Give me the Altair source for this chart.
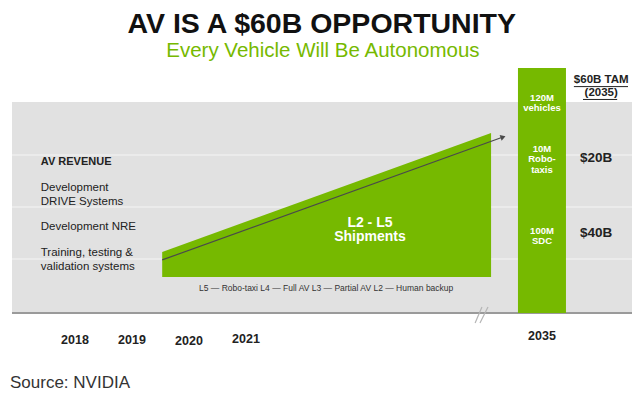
import altair as alt
import pandas as pd

GREEN = "#76b900"
FONT = "Liberation Sans"

# ---- content / values ----
title = "AV IS A $60B OPPORTUNITY"
subtitle = "Every Vehicle Will Be Autonomous"
source = "Source: NVIDIA"

years = [2018, 2019, 2020, 2021, 2035]
year_labels = ["2018", "2019", "2020", "2021", "2035"]

revenue_header = "AV REVENUE"
revenue_streams = ["Development\nDRIVE Systems", "Development NRE", "Training, testing &\nvalidation systems"]
band_edges = [26.4, 51.9, 77.4]          # revenue band separators (axis units)
panel_top = 103.3

ship_years = [2019.53, 2025.30]           # L2-L5 shipments wedge
ship_base = [17.6, 17.6]
ship_top = [29.9, 88.2]
trend_years = [2019.53, 2025.51]          # growth arrow
trend_values = [26.0, 86.2]
ship_label = "L2 - L5\nShipments"
autonomy_levels = ["L5 \u2014 Robo-taxi", "L4 \u2014 Full AV", "L3 \u2014 Partial AV", "L2 \u2014 Human backup"]

bar_year = 2035
vehicles_2035 = 120                        # M vehicles
segments_2035 = ["120M\nvehicles", "10M\nRobo-\ntaxis", "100M\nSDC"]
tam_header = ["$60B TAM", "(2035)"]
tam_values = ["$20B", "$40B"]

# ---- scales (broken time axis) ----
xs = alt.Scale(domain=[2016.825, 2025.632, 2034.439, 2036.58], range=[0, 502, 502, 624],
               nice=False, zero=False, padding=0)
ys = alt.Scale(domain=[-38.2, 149.4], range=[383, 0], nice=False, zero=False, padding=0)


def X(f="x"):
    return alt.X(f, type="quantitative", scale=xs, axis=None)


def Y(f="y"):
    return alt.Y(f, type="quantitative", scale=ys, axis=None)


def text_layer(texts, xvals, yvals, **kw):
    df = pd.DataFrame({"t": texts, "x": xvals, "y": yvals})
    base = dict(font=FONT, lineBreak="\n", baseline="middle")
    base.update(kw)
    return alt.Chart(df).mark_text(**base).encode(x=X(), y=Y(), text="t:N")


x_left, x_right = 2016.895, 2036.58

panel = alt.Chart(pd.DataFrame({"x": [x_left], "x2": [x_right], "y": [0], "y2": [panel_top]})).mark_rect(
    color="#e1e1e1").encode(x=X(), x2="x2", y=Y(), y2="y2")

grid = alt.Chart(pd.DataFrame({"y": band_edges, "x": x_left, "x2": x_right})).mark_rule(
    color="#eeeeee", strokeWidth=1.5).encode(x=X(), x2="x2", y=Y())

axis_line = alt.Chart(pd.DataFrame({"y": [0], "x": [x_left], "x2": [x_right]})).mark_rule(
    color="#9a9a9a", strokeWidth=2).encode(x=X(), x2="x2", y=Y())

brk = alt.Chart(pd.DataFrame({"x": [2025.02, 2025.105], "x2": [2025.14, 2025.246],
                              "y": [-4.9, -4.9], "y2": [2.9, 2.9]})).mark_rule(
    color="#b5b5b5", strokeWidth=1.2).encode(x=X(), x2="x2", y=Y(), y2="y2")

wedge = alt.Chart(pd.DataFrame({"x": ship_years, "y": ship_top, "y2": ship_base})).mark_area(
    color=GREEN, opacity=1).encode(x=X(), y=Y(), y2="y2")

trend = alt.Chart(pd.DataFrame({"x": trend_years, "y": trend_values})).mark_line(
    color="#4a4a4a", strokeWidth=1.2).encode(x=X(), y=Y())

head = alt.Chart(pd.DataFrame({"x": trend_years[-1:], "y": trend_values[-1:]})).mark_point(
    shape="triangle-right", angle=340, filled=True, size=35, color="#4a4a4a", opacity=1).encode(x=X(), y=Y())

bar = alt.Chart(pd.DataFrame({"x": [bar_year], "y": [vehicles_2035], "y2": [0]})).mark_bar(
    color=GREEN, size=48).encode(x=X(), y=Y(), y2="y2")

t_title = text_layer([title], [2022.33], [149.4 - 1.6 / 2.0417], fontSize=28.5, fontWeight="bold",
                     color="#111111", align="center", baseline="top")
t_sub = text_layer([subtitle], [2022.35], [128.5], fontSize=20.5, color=GREEN, align="center")
t_src = text_layer([source], [2016.86], [-34.3], fontSize=17, color="#333333", align="left")

t_head = text_layer([revenue_header], [2017.40], [74.0], fontSize=11, fontWeight="bold", color="#222222", align="left")
t_rev = text_layer(revenue_streams, [2017.40] * 3, [61.2, 42.1, 29.4], fontSize=11.5, lineHeight=14,
                   color="#222222", align="left")

t_ship = text_layer([ship_label], [2023.175], [44.1], fontSize=14, lineHeight=14.5, fontWeight="bold",
                    color="white", align="center")
t_lvls = text_layer(["  ".join(autonomy_levels)], [2020.175], [12.2], fontSize=8.5, color="#333333", align="left")

t_seg = text_layer(segments_2035, [2035] * 3, [105.3, 80.3, 40.2], fontSize=9.5, lineHeight=10.3,
                   fontWeight="bold", color="white", align="center")
t_tamh = text_layer(tam_header, [2036.04] * 2, [114.1, 107.7], fontSize=11.5, fontWeight="bold",
                    color="#222222", align="center")
tam_ul = alt.Chart(pd.DataFrame({"x": [2035.56, 2035.72], "x2": [2036.51, 2036.32],
                                 "y": [110.9, 104.6]})).mark_rule(color="#222222", strokeWidth=1).encode(
    x=X(), x2="x2", y=Y())
t_tamv = text_layer(tam_values, [2035.95] * 2, [75.9, 39.2], fontSize=13.5, fontWeight="bold",
                    color="#222222", align="center")

t_years = text_layer(year_labels, years, [-13.2, -13.2, -13.7, -12.7, -11.3], fontSize=12.5,
                     fontWeight="bold", color="#222222", align="center")

chart = alt.layer(
    panel, grid, axis_line, brk, wedge, trend, head, bar,
    t_title, t_sub, t_src, t_head, t_rev, t_ship, t_lvls, t_seg, t_tamh, tam_ul, t_tamv, t_years,
).properties(
    width=624, height=383, padding=0, autosize=alt.AutoSizeParams(type="none"), background="white"
).configure_view(stroke=None)

chart.save("out.html", embed_options={"renderer": "svg", "actions": False})
